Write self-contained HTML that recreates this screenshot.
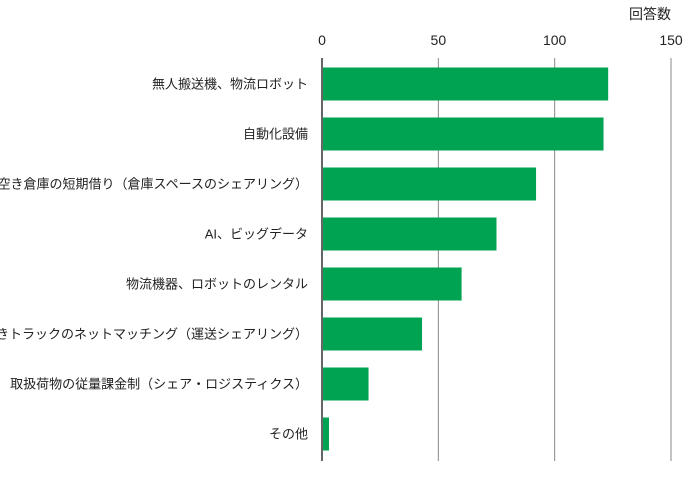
<!DOCTYPE html>
<html><head><meta charset="utf-8"><style>
body{margin:0;background:#fff;}
svg text{font-family:"Liberation Sans","Noto Sans CJK JP",sans-serif;fill:#222;}
</style></head><body>
<svg width="700" height="483">
<g id="grid"></g><g id="bars"></g><g id="labels"></g>
<text x="650" y="19" font-size="14" text-anchor="middle">回答数</text>
</svg>
<script>
const categories=["無人搬送機、物流ロボット","自動化設備","空き倉庫の短期借り（倉庫スペースのシェアリング）","AI、ビッグデータ","物流機器、ロボットのレンタル","空きトラックのネットマッチング（運送シェアリング）","取扱荷物の従量課金制（シェア・ロジスティクス）","その他"];
const values=[123,121,92,75,60,43,20,3];
const ticks=[0,50,100,150];
const ns="http://www.w3.org/2000/svg";
const x0=322,sc=(671-322)/150;
const x=v=>x0+v*sc;
const rowTop=i=>67.5+i*50;
function mk(t,a,p){const e=document.createElementNS(ns,t);for(const k in a)e.setAttribute(k,a[k]);p.appendChild(e);return e;}
const g=document.getElementById('grid'),b=document.getElementById('bars'),l=document.getElementById('labels');
ticks.forEach(t=>{
 const ln=mk('line',{x1:x(t),x2:x(t),y1:58,y2:461,stroke:t==0?'#000':'#888','stroke-width':t==0?1.2:1},g);
 
 
 const tx=mk('text',{x:x(t),y:45,'font-size':14,'text-anchor':'middle'},l);
 tx.textContent=t;
 
 
});
categories.forEach((c,i)=>{
 const r=mk('rect',{x:x0+1,y:rowTop(i),width:x(values[i])-x0-1,height:33,fill:'#00a352'},b);
 
 
 const t=mk('text',{x:308,y:rowTop(i)+21,'font-size':13,'text-anchor':'end'},l);
 t.textContent=c;
 
 
});
</script>
</body></html>
